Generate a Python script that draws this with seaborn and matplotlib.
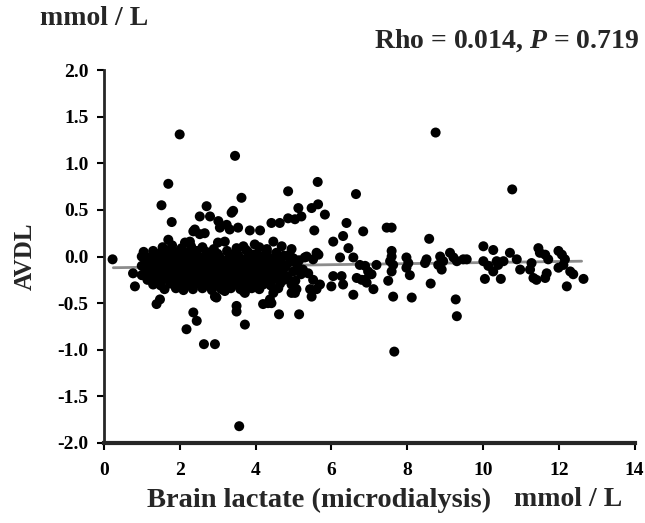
import seaborn as sns
import matplotlib
matplotlib.use("Agg")
import matplotlib.pyplot as plt
import matplotlib.ticker as ticker

# sparse points (lactate mmol/L, AVDL mmol/L)
spread_pts = [
    (2.00, 1.31), (3.46, 1.08), (1.70, 0.78), (1.52, 0.55), (1.79, 0.37), (1.70, 0.18),
    (3.63, 0.63), (3.41, 0.49), (3.37, 0.47), (2.71, 0.54), (2.53, 0.43), (2.80, 0.43),
    (3.02, 0.38), (3.06, 0.31), (3.24, 0.34), (2.36, 0.27), (2.53, 0.24), (2.27, 0.16),
    (2.40, 0.29), (2.66, 0.25), (3.01, 0.15), (3.19, 0.16), (3.32, 0.29), (2.14, 0.15),
    (0.23, -0.03), (0.77, -0.18), (0.82, -0.32),
    (4.86, 0.70), (5.64, 0.80), (5.65, 0.56), (5.48, 0.52), (5.13, 0.52), (5.21, 0.43),
    (5.83, 0.45), (4.42, 0.36), (4.64, 0.36), (4.86, 0.41), (5.04, 0.40), (3.54, 0.31),
    (3.85, 0.28), (4.12, 0.28), (5.55, 0.28), (6.40, 0.36), (6.65, 0.67), (6.84, 0.27),
    (6.31, 0.22), (6.05, 0.16), (6.45, 0.09), (6.58, -0.01), (6.23, -0.01), (4.47, 0.16),
    (4.69, 0.11), (4.95, 0.08), (3.68, 0.11), (3.98, 0.13), (5.30, -0.01), (5.61, 0.04),
    (5.35, 0.00), (5.52, -0.03), (5.66, 0.02), (5.39, -0.18), (5.52, -0.25), (5.61, -0.35),
    (5.44, -0.35),
    (6.05, -0.21), (6.27, -0.21), (6.00, -0.32), (6.31, -0.30), (6.67, -0.23), (6.58, -0.41),
    (6.80, -0.25), (6.93, -0.28),
    (1.39, -0.51), (1.48, -0.46), (2.36, -0.60), (2.45, -0.69), (2.18, -0.78), (2.64, -0.94),
    (2.93, -0.94), (3.50, -0.59), (3.72, -0.73), (3.57, -1.82), (4.20, -0.51), (4.42, -0.50),
    (4.62, -0.62), (5.15, -0.62), (4.47, -0.39), (5.08, -0.35), (2.97, -0.44), (3.72, -0.39),
    (4.33, -0.50), (3.50, -0.53), (2.93, -0.43), (3.19, -0.37), (3.68, -0.37), (4.38, -0.46),
    (5.04, -0.39), (5.48, -0.43), (5.70, -0.30), (4.95, -0.39),
    (8.75, 1.33), (10.77, 0.72), (7.46, 0.31), (7.59, 0.31), (8.58, 0.19), (7.59, 0.06),
    (7.59, 0.00), (7.55, -0.05), (7.63, -0.09), (7.59, -0.16), (7.98, -0.01), (8.03, -0.07),
    (7.98, -0.12), (8.07, -0.20), (6.75, -0.09), (6.89, -0.10), (6.97, -0.16), (7.06, -0.19),
    (6.89, -0.25), (7.11, -0.35), (7.19, -0.09), (7.50, -0.26), (7.63, -0.43), (8.12, -0.44),
    (7.66, -1.02), (8.51, -0.03), (8.47, -0.07), (8.62, -0.29), (8.87, 0.00), (8.82, -0.09),
    (8.95, -0.05), (8.91, -0.14), (9.13, 0.04), (9.22, -0.01), (9.31, -0.05), (9.48, -0.03),
    (9.57, -0.03), (9.28, -0.46), (9.31, -0.64), (10.01, 0.11), (10.27, 0.07), (10.01, -0.05),
    (10.14, -0.10), (10.05, -0.24), (10.36, -0.05), (10.47, -0.24), (10.71, 0.04), (10.40, -0.09),
    (10.54, -0.05), (10.27, -0.16), (10.89, -0.03), (10.98, -0.14), (11.24, -0.14), (11.33, -0.23),
    (11.41, -0.25), (11.46, 0.09), (11.50, 0.04), (11.64, 0.02), (11.72, -0.03), (11.68, -0.18),
    (11.64, -0.23), (11.28, -0.07), (11.99, 0.06), (12.08, 0.02), (12.16, -0.03), (12.12, -0.09),
    (11.99, -0.12), (12.30, -0.16), (12.38, -0.19), (12.21, -0.32), (12.65, -0.24),
]

# dense cluster between ~1 and ~5.5 mmol/L
cluster_pts = [
    (1.55, 0.10), (1.80, 0.12), (2.05, 0.09), (2.30, 0.11), (2.60, 0.10), (2.90, 0.08),
    (3.50, 0.09), (3.75, 0.07), (4.10, 0.10), (4.30, 0.08),
    (1.05, 0.05), (1.30, 0.06), (1.50, 0.04), (1.70, 0.06), (1.95, 0.05), (2.20, 0.04),
    (2.45, 0.06), (2.70, 0.05), (3.00, 0.03), (3.25, 0.06), (3.50, 0.04), (3.80, 0.05),
    (4.05, 0.03), (4.30, 0.05), (4.55, 0.04), (4.90, 0.02),
    (1.40, 0.02), (1.85, 0.03), (2.35, 0.02), (2.85, 0.02), (3.40, 0.02), (3.95, 0.02),
    (1.00, 0.00), (1.20, -0.01), (1.40, 0.01), (1.60, 0.00), (1.85, -0.01), (2.05, 0.01),
    (2.30, 0.00), (2.55, -0.01), (2.80, 0.01), (3.05, 0.00), (3.30, -0.01), (3.55, 0.01),
    (3.80, 0.00), (4.05, -0.02), (4.25, 0.00), (4.50, -0.01), (4.75, 0.01), (5.00, -0.02),
    (1.20, -0.03), (1.50, -0.02), (1.80, -0.03), (2.10, -0.02), (2.40, -0.03), (2.70, -0.02),
    (3.00, -0.03), (3.30, -0.02), (3.60, -0.03), (3.90, -0.02), (4.20, -0.03), (4.50, -0.02),
    (1.10, -0.05), (1.35, -0.06), (1.55, -0.04), (1.75, -0.05), (2.00, -0.06), (2.25, -0.04),
    (2.45, -0.05), (2.70, -0.06), (2.95, -0.04), (3.20, -0.05), (3.45, -0.06), (3.70, -0.04),
    (3.95, -0.05), (4.15, -0.06), (4.40, -0.04), (4.65, -0.05), (4.90, -0.06), (5.15, -0.04),
    (1.20, -0.08), (1.55, -0.07), (1.80, -0.08), (2.20, -0.07), (2.50, -0.08), (2.80, -0.07),
    (3.05, -0.08), (3.30, -0.07), (3.55, -0.08), (3.80, -0.07), (4.05, -0.08), (4.35, -0.07),
    (1.00, -0.10), (1.25, -0.11), (1.45, -0.09), (1.65, -0.10), (1.90, -0.11), (2.10, -0.09),
    (2.35, -0.10), (2.60, -0.11), (2.85, -0.09), (3.10, -0.10), (3.35, -0.11), (3.60, -0.09),
    (3.85, -0.10), (4.10, -0.11), (4.30, -0.09), (4.55, -0.10), (4.80, -0.11), (5.10, -0.09),
    (1.15, -0.13), (1.45, -0.12), (1.75, -0.13), (2.05, -0.12), (2.35, -0.13), (2.65, -0.12),
    (2.95, -0.13), (3.25, -0.12), (3.55, -0.13), (3.85, -0.12), (4.15, -0.13), (4.45, -0.12),
    (1.10, -0.15), (1.30, -0.16), (1.55, -0.14), (1.80, -0.15), (2.00, -0.16), (2.25, -0.14),
    (2.50, -0.15), (2.75, -0.16), (3.00, -0.14), (3.25, -0.15), (3.50, -0.16), (3.75, -0.14),
    (4.00, -0.15), (4.20, -0.16), (4.45, -0.14), (4.70, -0.15), (5.00, -0.16), (5.25, -0.14),
    (1.25, -0.18), (1.60, -0.17), (1.90, -0.18), (2.15, -0.17), (2.45, -0.18), (2.75, -0.17),
    (3.05, -0.18), (3.35, -0.17), (3.65, -0.18), (3.95, -0.17), (4.25, -0.18), (4.55, -0.17),
    (1.00, -0.20), (1.20, -0.21), (1.45, -0.19), (1.70, -0.20), (1.95, -0.21), (2.15, -0.19),
    (2.40, -0.20), (2.65, -0.21), (2.90, -0.19), (3.15, -0.20), (3.40, -0.21), (3.65, -0.19),
    (3.90, -0.20), (4.15, -0.21), (4.35, -0.19), (4.60, -0.20), (4.85, -0.21), (5.20, -0.19),
    (1.30, -0.23), (1.60, -0.22), (1.90, -0.23), (2.20, -0.22), (2.50, -0.23), (2.80, -0.22),
    (3.10, -0.23), (3.40, -0.22), (3.70, -0.23), (4.00, -0.22), (4.30, -0.23), (4.60, -0.22),
    (1.15, -0.25), (1.40, -0.26), (1.60, -0.24), (1.85, -0.25), (2.05, -0.26), (2.30, -0.24),
    (2.55, -0.25), (2.80, -0.26), (3.05, -0.24), (3.30, -0.25), (3.55, -0.26), (3.80, -0.24),
    (4.05, -0.25), (4.25, -0.26), (4.50, -0.24), (4.75, -0.25), (5.05, -0.26),
    (1.45, -0.28), (1.75, -0.27), (2.10, -0.28), (2.40, -0.27), (2.70, -0.28), (3.00, -0.27),
    (3.30, -0.28), (3.60, -0.27), (3.90, -0.28), (4.20, -0.27),
    (1.30, -0.30), (1.50, -0.31), (1.75, -0.29), (2.00, -0.30), (2.20, -0.31), (2.45, -0.29),
    (2.70, -0.30), (2.95, -0.31), (3.20, -0.29), (3.45, -0.30), (3.70, -0.31), (3.95, -0.29),
    (4.20, -0.30), (4.40, -0.31), (4.65, -0.29), (4.95, -0.30),
    (1.60, -0.35), (1.90, -0.34), (2.10, -0.36), (2.35, -0.35), (2.60, -0.34), (2.85, -0.36),
    (3.10, -0.35), (3.35, -0.34), (3.60, -0.35), (3.90, -0.34), (4.10, -0.35), (4.60, -0.34),
]

# fitted regression line, end points as drawn
fit_x = [0.25, 12.6]
fit_y = [-0.12, -0.05]

lactate = [p[0] for p in spread_pts + cluster_pts]
avdl = [p[1] for p in spread_pts + cluster_pts]

sns.set_style("ticks")
plt.rcParams["font.family"] = ["Liberation Serif", "DejaVu Serif"]
plt.rcParams["font.weight"] = "bold"
plt.rcParams["axes.unicode_minus"] = False
plt.rcParams["mathtext.fontset"] = "custom"
plt.rcParams["mathtext.rm"] = "Liberation Serif:bold"
plt.rcParams["mathtext.it"] = "Liberation Serif:italic:bold"

fig = plt.figure(figsize=(6.45, 5.23), dpi=100)
ax = fig.add_axes([0.161, 0.153, 0.823, 0.713])

sns.lineplot(x=fit_x, y=fit_y, color="#8c8c8c", linewidth=2, ax=ax, zorder=1)
sns.scatterplot(x=lactate, y=avdl, color="black", s=52, edgecolor="none", ax=ax, zorder=2)

ax.set_xlim(0, 14)
ax.set_ylim(-2.0, 2.0)
ax.set_xticks(range(0, 15, 2))
ax.set_yticks([-2.0, -1.5, -1.0, -0.5, 0.0, 0.5, 1.0, 1.5, 2.0])
ax.yaxis.set_major_formatter(ticker.FormatStrFormatter("%.1f"))
ax.tick_params(axis="both", direction="out", length=5, width=1.5, labelsize=14, colors="black")
ax.tick_params(axis="x", pad=9)
ax.tick_params(axis="y", pad=6)
for lab in ax.get_xticklabels() + ax.get_yticklabels():
    lab.set_fontweight("bold")
sns.despine(ax=ax)
ax.spines["left"].set_linewidth(2.0)
ax.spines["bottom"].set_linewidth(3.0)
ax.set_xlabel("")
ax.set_ylabel("AVDL", fontsize=18, fontweight="bold", labelpad=15)

fig.text(0.062, 0.964, "mmol / L", fontsize=20, fontweight="bold", ha="left", va="center")
fig.text(0.992, 0.923, r"Rho = 0.014, $P$ = 0.719", fontsize=20, fontweight="bold",
         ha="right", va="center")
fig.text(0.495, 0.044, "Brain lactate (microdialysis)", fontsize=20.5, fontweight="bold",
         ha="center", va="center")
fig.text(0.964, 0.044, "mmol / L", fontsize=20, fontweight="bold", ha="right", va="center")

fig.savefig("out.png", dpi=100)
